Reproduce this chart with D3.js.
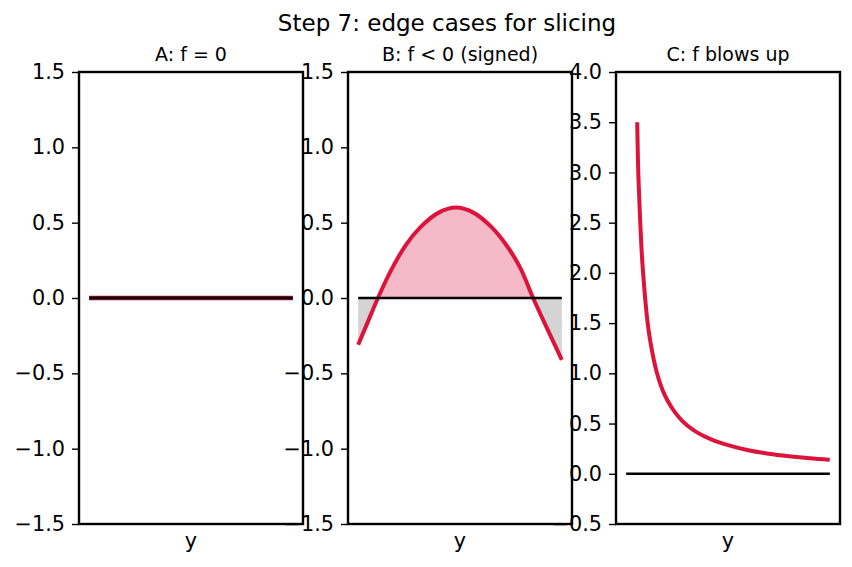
<!DOCTYPE html>
<html>
<head>
<meta charset="utf-8">
<script src="https://cdn.jsdelivr.net/npm/d3@7"></script>
<style>
  body { margin: 0; background: #fff; }
  text { font-family: "DejaVu Sans", sans-serif; fill: #000; }
</style>
</head>
<body>
<div id="chart"></div>
<script>

// panel titles and axis ranges
var titles = ["A: f = 0", "B: f < 0 (signed)", "C: f blows up"];
var yDomains = [[-1.5, 1.5], [-1.5, 1.5], [-0.5, 4.0]];
var yTicks = [
    [-1.5, -1.0, -0.5, 0.0, 0.5, 1.0, 1.5],
    [-1.5, -1.0, -0.5, 0.0, 0.5, 1.0, 1.5],
    [-0.5, 0.0, 0.5, 1.0, 1.5, 2.0, 2.5, 3.0, 3.5, 4.0]
];

// A: f is zero everywhere
var aX = [0, 1];
var aF = [0, 0];

// B: signed f
var bX = [0, 0.0485, 0.097, 0.16, 0.233, 0.306, 0.393, 0.481, 0.568, 0.655, 0.728, 0.796, 0.859, 0.927, 1.0];
var bF = [-0.31, -0.155, 0.0, 0.18, 0.35, 0.47, 0.565, 0.60, 0.565, 0.47, 0.35, 0.20, 0.0, -0.20, -0.41];

// C: f blows up near the left end
var cX = [0.054, 0.058, 0.062, 0.068, 0.075, 0.083, 0.092, 0.10, 0.11, 0.12, 0.135, 0.15, 0.17, 0.19,
          0.22, 0.26, 0.30, 0.35, 0.42, 0.50, 0.60, 0.70, 0.80, 0.90, 1.0];
var cF = [3.50, 3.10, 2.85, 2.55, 2.25, 2.0, 1.77, 1.60, 1.43, 1.30, 1.14, 1.01, 0.88, 0.78,
          0.67, 0.56, 0.48, 0.41, 0.34, 0.285, 0.235, 0.20, 0.175, 0.155, 0.14];
var cZeroX = [0, 1];

function init(){

    var w = 852;
    var h = 567;
    var top = 72;
    var bottom = 524;
    var lefts = [79, 348, 616];
    var pw = 224;

    var svg = d3.select("#chart")
                .append("svg")
                .attr("width", w)
                .attr("height", h);

    svg.append("text")
        .attr("x", 447)
        .attr("y", 31)
        .attr("text-anchor", "middle")
        .attr("font-size", "23px")
        .text("Step 7: edge cases for slicing");

    var pairs = [
        aX.map(function(x, i) { return {x: x, f: aF[i]}; }),
        bX.map(function(x, i) { return {x: x, f: bF[i]}; }),
        cX.map(function(x, i) { return {x: x, f: cF[i]}; })
    ];

    for (var p = 0; p < 3; p++) {
        var left = lefts[p];
        var x = d3.scaleLinear().domain([-0.05, 1.05]).range([left, left + pw]);
        var y = d3.scaleLinear().domain(yDomains[p]).range([bottom, top]);
        var g = svg.append("g");
        var data = pairs[p];

        if (p == 1) {
            // fill between f and 0: pink above, grey below
            var area = d3.area()
                .x(function(d) { return x(d.x); })
                .y0(y(0))
                .y1(function(d) { return y(d.f); })
                .curve(d3.curveCatmullRom);
            var defs = svg.append("defs");
            defs.append("clipPath").attr("id", "above")
                .append("rect")
                .attr("x", left).attr("y", top)
                .attr("width", pw).attr("height", y(0) - top);
            defs.append("clipPath").attr("id", "below")
                .append("rect")
                .attr("x", left).attr("y", y(0))
                .attr("width", pw).attr("height", bottom - y(0));
            g.append("path").datum(data)
                .attr("d", area)
                .attr("fill", "#f4b9c6")
                .attr("clip-path", "url(#above)");
            g.append("path").datum(data)
                .attr("d", area)
                .attr("fill", "#d4d4d4")
                .attr("clip-path", "url(#below)");
        }

        var line = d3.line()
            .x(function(d) { return x(d.x); })
            .y(function(d) { return y(d.f); })
            .curve(p == 2 ? d3.curveMonotoneX : d3.curveCatmullRom);

        if (p == 2) {
            g.append("path")
                .datum(cZeroX.map(function(v) { return {x: v, f: 0}; }))
                .attr("d", line)
                .attr("fill", "none")
                .attr("stroke", "#000")
                .attr("stroke-width", 2.4);
        }

        g.append("path").datum(data)
            .attr("d", line)
            .attr("fill", "none")
            .attr("stroke", "#dc143c")
            .attr("stroke-width", p == 0 ? 4.4 : 4);

        if (p != 2) {
            // zero line on top
            g.append("path")
                .datum(data.map(function(d) { return {x: d.x, f: 0}; }))
                .attr("d", d3.line().x(function(d) { return x(d.x); }).y(function(d) { return y(d.f); }))
                .attr("fill", "none")
                .attr("stroke", "#000")
                .attr("stroke-width", p == 0 ? 3 : 2.4);
        }

        // y axis
        var axis = svg.append("g")
            .attr("transform", "translate(" + left + ",0)")
            .call(d3.axisLeft(y).tickValues(yTicks[p]).tickFormat(d3.format(".1f")).tickSize(7).tickPadding(7));
        axis.select(".domain").remove();
        axis.selectAll("line").attr("stroke", "#000").attr("stroke-width", 1.4);
        axis.selectAll("text")
            .attr("font-size", "20.8px")
            .attr("font-family", "DejaVu Sans")
            .attr("fill", "#000");

        // frame
        svg.append("rect")
            .attr("x", left)
            .attr("y", top)
            .attr("width", pw)
            .attr("height", bottom - top)
            .attr("fill", "none")
            .attr("stroke", "#000")
            .attr("stroke-width", 2.4);

        svg.append("text")
            .attr("x", left + pw / 2)
            .attr("y", 61)
            .attr("text-anchor", "middle")
            .attr("font-size", "19px")
            .text(titles[p]);

        svg.append("text")
            .attr("x", left + pw / 2)
            .attr("y", 548)
            .attr("text-anchor", "middle")
            .attr("font-size", "20.8px")
            .text("y");
    }
}

window.onload = init;
</script>
</body>
</html>
